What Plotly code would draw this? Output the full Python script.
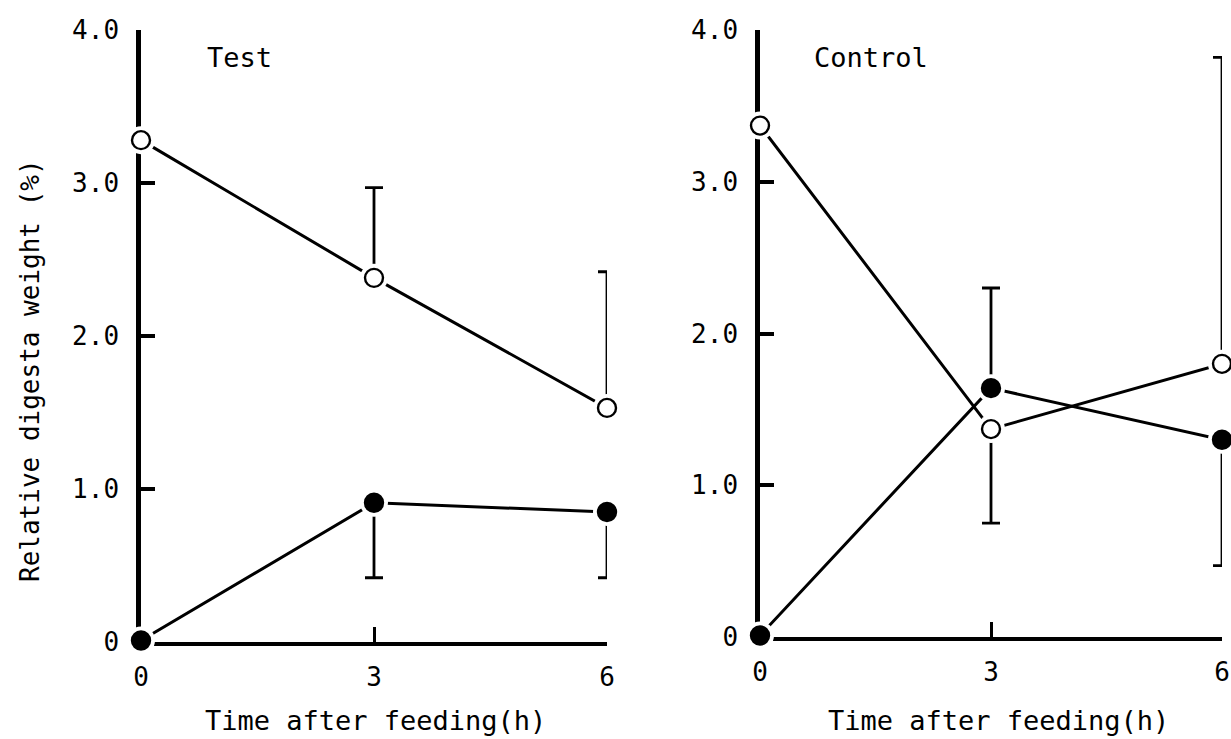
import plotly.graph_objects as go

# ---- data ----
time_h = [0, 3, 6]

test_open = [3.28, 2.38, 1.53]
test_open_err_up = [0, 0.59, 0.89]
test_open_err_down = [0, 0, 0]

test_filled = [0.01, 0.91, 0.85]
test_filled_err_up = [0, 0, 0]
test_filled_err_down = [0, 0.49, 0.43]

ctrl_open = [3.37, 1.37, 1.80]
ctrl_open_err_up = [0, 0, 2.02]
ctrl_open_err_down = [0, 0.62, 0]

ctrl_filled = [0.01, 1.64, 1.30]
ctrl_filled_err_up = [0, 0.66, 0]
ctrl_filled_err_down = [0, 0, 0.83]

y_tickvals = [0, 1, 2, 3, 4]
y_ticktext = ["0", "1.0", "2.0", "3.0", "4.0"]
x_tickvals = [0, 3, 6]
x_ticktext = ["0", "3", "6"]

x_title = "Time after feeding(h)"
y_title = "Relative digesta weight (%)"
panel_labels = ["Test", "Control"]

FONT = "DejaVu Sans Mono"
W, H = 1231, 739

fig = go.Figure()


def add_series(x, y, up, down, filled, xa, ya):
    # connecting line with one-sided error bars
    fig.add_trace(go.Scatter(
        x=x, y=y, mode="lines", xaxis=xa, yaxis=ya,
        line=dict(color="black", width=3),
        error_y=dict(type="data", symmetric=False, array=up, arrayminus=down,
                     color="black", thickness=2.8, width=9),
        cliponaxis=False, showlegend=False, hoverinfo="skip"))
    # white halo to create the small gaps around the symbols
    fig.add_trace(go.Scatter(
        x=x, y=y, mode="markers", xaxis=xa, yaxis=ya,
        marker=dict(size=28, color="white", line=dict(width=0)),
        cliponaxis=False, showlegend=False, hoverinfo="skip"))
    # the symbols
    fig.add_trace(go.Scatter(
        x=x, y=y, mode="markers", xaxis=xa, yaxis=ya,
        marker=dict(size=18, symbol="circle",
                    color="black" if filled else "white",
                    line=dict(color="black", width=2.4)),
        cliponaxis=False, showlegend=False))


add_series(time_h, test_open, test_open_err_up, test_open_err_down, False, "x", "y")
add_series(time_h, test_filled, test_filled_err_up, test_filled_err_down, True, "x", "y")
add_series(time_h, ctrl_open, ctrl_open_err_up, ctrl_open_err_down, False, "x2", "y2")
add_series(time_h, ctrl_filled, ctrl_filled_err_up, ctrl_filled_err_down, True, "x2", "y2")

tick_font = dict(family=FONT, size=26, color="black")
title_font = dict(family=FONT, size=27, color="black")
ytitle_font = dict(family=FONT, size=26, color="black")

xcommon = dict(range=[0, 6], tickvals=x_tickvals, ticktext=x_ticktext,
               showline=True, linecolor="black", linewidth=3.5,
               ticks="inside", ticklen=15, tickwidth=3, tickcolor="black",
               showgrid=False, zeroline=False, tickfont=tick_font,
               layer="below traces", ticklabelstandoff=9, automargin=False)
ycommon = dict(range=[0, 4], tickvals=y_tickvals, ticktext=y_ticktext,
               showline=True, linecolor="black", linewidth=4.5,
               ticks="inside", ticklen=14, tickwidth=3.5, tickcolor="black",
               showgrid=False, zeroline=False, tickfont=tick_font,
               layer="below traces", ticklabelstandoff=12, automargin=False)

fig.update_layout(
    width=W, height=H,
    margin=dict(l=0, r=0, t=0, b=0),
    paper_bgcolor="white", plot_bgcolor="white",
    xaxis=dict(domain=[141 / W, 607 / W], anchor="y", **xcommon),
    xaxis2=dict(domain=[760 / W, 1222 / W], anchor="y2", **xcommon),
    yaxis=dict(domain=[(H - 642) / H, (H - 30) / H], anchor="x", **ycommon),
    yaxis2=dict(domain=[(H - 637) / H, (H - 30) / H], anchor="x2", **ycommon),
    annotations=[
        dict(text=panel_labels[0], x=0.82, y=3.82, xref="x", yref="y", xanchor="left",
             yanchor="middle", showarrow=False, font=title_font),
        dict(text=panel_labels[1], x=0.675, y=3.82, xref="x2", yref="y2", xanchor="left",
             yanchor="middle", showarrow=False, font=title_font),
        # axis titles
        dict(text=x_title, x=375 / W, y=(H - 720) / H, xref="paper", yref="paper",
             xanchor="center", yanchor="middle", showarrow=False, font=title_font),
        dict(text=x_title, x=998 / W, y=(H - 720) / H, xref="paper", yref="paper",
             xanchor="center", yanchor="middle", showarrow=False, font=title_font),
        dict(text=y_title, x=30 / W, y=(H - 371) / H, xref="paper", yref="paper",
             xanchor="center", yanchor="middle", textangle=-90, showarrow=False,
             font=ytitle_font),
    ],
)

fig.write_html("out.html")
